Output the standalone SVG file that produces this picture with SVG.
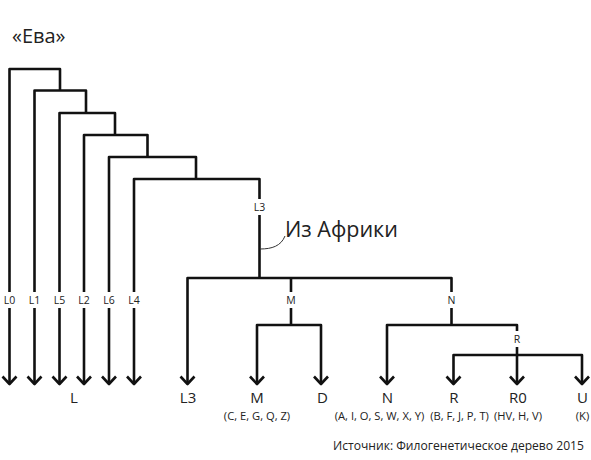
<svg xmlns="http://www.w3.org/2000/svg" width="591" height="460" viewBox="0 0 591 460">
<style>
.ln{fill:none;stroke:#111;stroke-width:2.6;stroke-linejoin:round}
.t{font-family:"Open Sans","Liberation Sans",sans-serif;fill:#222}
.sm{font-size:10.5px;text-anchor:middle}
.lb{font-size:15px;text-anchor:middle}
.sub{font-size:11.2px;text-anchor:middle}
.bg{fill:#fff}
</style>
<defs>
<marker id="ah" markerUnits="userSpaceOnUse" markerWidth="20" markerHeight="20" viewBox="-10 -10 20 20" refX="0" refY="0" orient="auto">
<path d="M-7.5,-7 L0,0 L-7.5,7" fill="none" stroke="#111" stroke-width="2.6" stroke-linejoin="round"/>
</marker>
</defs>
<rect width="591" height="460" fill="#fff"/>
<g id="connectors">
<path class="ln" d="M60,90.5 V69 H9.5 V384" marker-end="url(#ah)"/>
<path class="ln" d="M86,113 V90.5 H34.5 V384" marker-end="url(#ah)"/>
<path class="ln" d="M115,135 V113 H59.5 V384" marker-end="url(#ah)"/>
<path class="ln" d="M147.5,157 V135 H84 V384" marker-end="url(#ah)"/>
<path class="ln" d="M196,179 V157 H109 V384" marker-end="url(#ah)"/>
<path class="ln" d="M259.5,278 V179 H134 V384" marker-end="url(#ah)"/>
<path class="ln" d="M451.5,325 V278 H187.5 V384" marker-end="url(#ah)"/>
<path class="ln" d="M291,278 V325"/>
<path class="ln" d="M291,325 H257 V384" marker-end="url(#ah)"/>
<path class="ln" d="M291,325 H321 V384" marker-end="url(#ah)"/>
<path class="ln" d="M452,325 H387 V384" marker-end="url(#ah)"/>
<path class="ln" d="M452,325 H517 V384" marker-end="url(#ah)"/>
<path class="ln" d="M517,355 H453.5 V384" marker-end="url(#ah)"/>
<path class="ln" d="M517,355 H582 V384" marker-end="url(#ah)"/>
<path d="M260,249 C272,249 281,246 285,236" fill="none" stroke="#333" stroke-width="1"/>
</g>
<g id="eve"><text class="t" x="12" y="43" font-size="20">«Ева»</text></g>
<g id="branch-labels">
<rect class="bg" x="2" y="292" width="15" height="16"/><text class="t sm" x="9.5" y="304">L0</text>
<rect class="bg" x="27" y="292" width="15" height="16"/><text class="t sm" x="34.5" y="304">L1</text>
<rect class="bg" x="52" y="292" width="15" height="16"/><text class="t sm" x="59.5" y="304">L5</text>
<rect class="bg" x="76.5" y="292" width="15" height="16"/><text class="t sm" x="84" y="304">L2</text>
<rect class="bg" x="101.5" y="292" width="15" height="16"/><text class="t sm" x="109" y="304">L6</text>
<rect class="bg" x="126.5" y="292" width="15" height="16"/><text class="t sm" x="134" y="304">L4</text>
<rect class="bg" x="252" y="199" width="15" height="16"/><text class="t sm" x="259.5" y="211">L3</text>
<rect class="bg" x="284" y="292" width="14" height="16"/><text class="t sm" x="291" y="304">M</text>
<rect class="bg" x="445" y="292" width="13" height="16"/><text class="t sm" x="451.5" y="304">N</text>
<rect class="bg" x="511" y="331" width="12" height="16"/><text class="t sm" x="517" y="343">R</text>
</g>
<g id="out-of-africa"><text class="t" x="285" y="237" font-size="21.5">Из Африки</text></g>
<g id="node-L"><text class="t lb" x="74" y="403">L</text></g>
<g id="node-L3"><text class="t lb" x="188" y="403">L3</text></g>
<g id="node-M"><text class="t lb" x="257" y="403">M</text><text class="t sub" x="257" y="420">(C, E, G, Q, Z)</text></g>
<g id="node-D"><text class="t lb" x="322.5" y="403">D</text></g>
<g id="node-N"><text class="t lb" x="387.5" y="403">N</text><text class="t sub" x="379.5" y="420">(A, I, O, S, W, X, Y)</text></g>
<g id="node-R"><text class="t lb" x="454" y="403">R</text><text class="t sub" x="459.5" y="420">(B, F, J, P, T)</text></g>
<g id="node-R0"><text class="t lb" x="518" y="403">R0</text><text class="t sub" x="518" y="420">(HV, H, V)</text></g>
<g id="node-U"><text class="t lb" x="582.5" y="403">U</text><text class="t sub" x="582.5" y="420">(K)</text></g>
<g id="source"><text class="t" x="333" y="450" font-size="12.1">Источник: Филогенетическое дерево 2015</text></g>
</svg>
